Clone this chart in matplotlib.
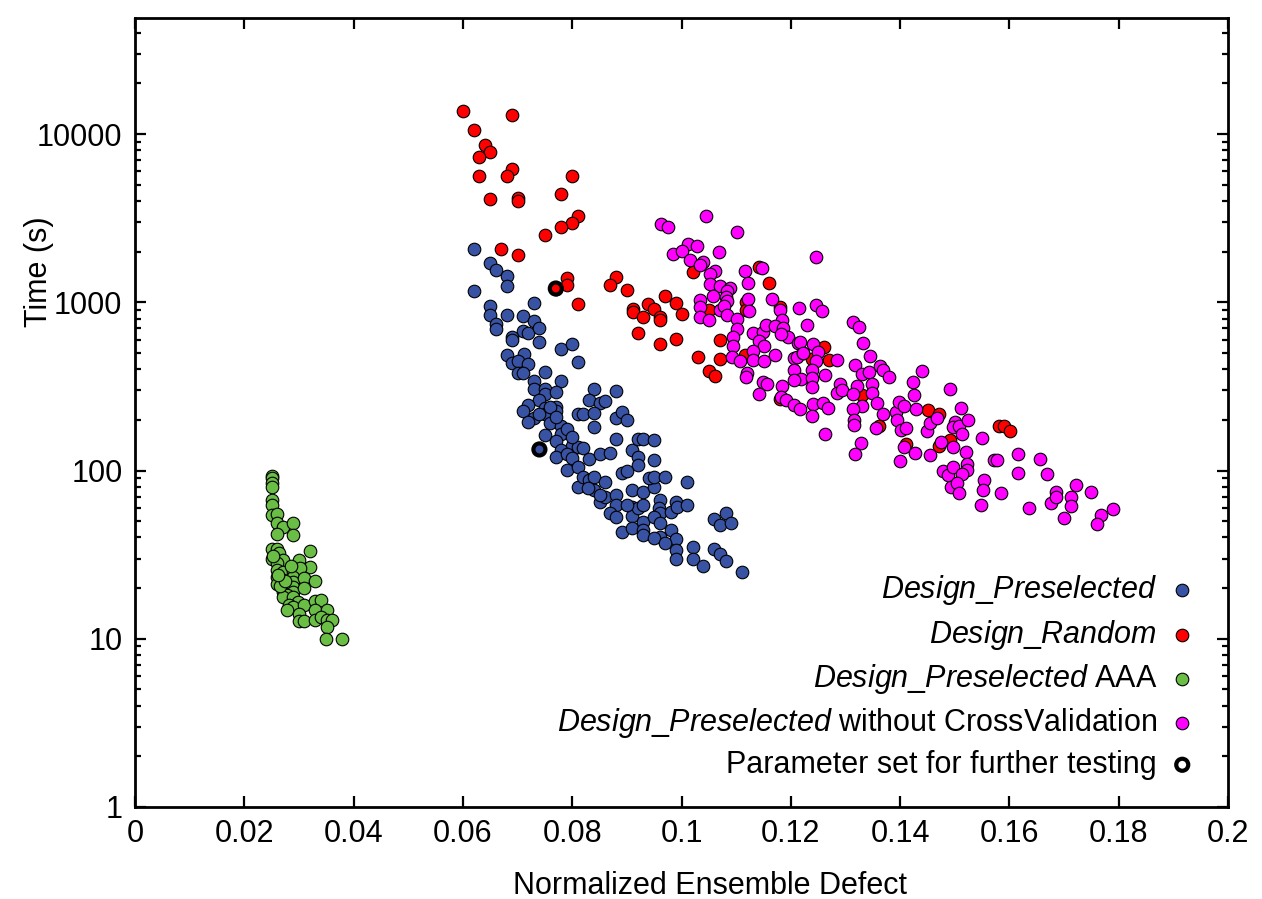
import matplotlib
matplotlib.use("Agg")
import matplotlib.pyplot as plt
from matplotlib.ticker import FixedLocator, FuncFormatter, LogLocator, NullFormatter

plt.rcParams['font.family'] = ['Liberation Sans', 'DejaVu Sans']
plt.rcParams['mathtext.fontset'] = 'custom'
plt.rcParams['mathtext.rm'] = 'Liberation Sans'
plt.rcParams['mathtext.it'] = 'Liberation Sans:italic'

# ---------------- data ----------------
pre_x = [0.0620, 0.0650, 0.0661, 0.0680, 0.0680, 0.0620, 0.0730, 0.0650, 0.0650, 0.0680,
         0.0710, 0.0730, 0.0661, 0.0661, 0.0710, 0.0720, 0.0740, 0.0689, 0.0689, 0.0740,
         0.0780, 0.0800, 0.0811, 0.0680, 0.0711, 0.0689, 0.0700, 0.0720, 0.0700, 0.0710,
         0.0750, 0.0730, 0.0730, 0.0780, 0.0750, 0.0750, 0.0770, 0.0740, 0.0720, 0.0710,
         0.0750, 0.0750, 0.0770, 0.0770, 0.0730, 0.0720, 0.0740, 0.0760, 0.0780, 0.0780,
         0.0790, 0.0750, 0.0840, 0.0830, 0.0850, 0.0860, 0.0880, 0.0811, 0.0820, 0.0840,
         0.0880, 0.0891, 0.0900, 0.0840, 0.0770, 0.0800, 0.0780, 0.0810, 0.0820, 0.0770,
         0.0790, 0.0800, 0.0790, 0.0810, 0.0830, 0.0850, 0.0870, 0.0880, 0.0910, 0.0920,
         0.0920, 0.0920, 0.0930, 0.0950, 0.0950, 0.0811, 0.0820, 0.0830, 0.0840, 0.0840,
         0.0850, 0.0860, 0.0880, 0.0880, 0.0870, 0.0880, 0.0891, 0.0900, 0.0910, 0.0910,
         0.0910, 0.0930, 0.0950, 0.0940, 0.0950, 0.0970, 0.1010, 0.0920, 0.0930, 0.0961,
         0.0959, 0.0961, 0.0990, 0.0981, 0.0991, 0.1010, 0.0891, 0.0910, 0.0930, 0.0930,
         0.0930, 0.0950, 0.0961, 0.0981, 0.0990, 0.0961, 0.0950, 0.0970, 0.0990, 0.0990,
         0.1021, 0.1021, 0.1040, 0.1060, 0.1070, 0.1081, 0.1060, 0.1070, 0.1081, 0.1091,
         0.1111, 0.0759, 0.0770, 0.0799, 0.0860, 0.0829, 0.0851, 0.0900, 0.0740]
pre_y = [2087, 1715, 1566, 1443, 1252, 1175, 997, 948, 838, 842,
         830, 772, 748, 692, 676, 653, 699, 623, 595, 582,
         526, 564, 439, 487, 490, 433, 447, 431, 378, 378,
         384, 340, 305, 343, 307, 287, 292, 262, 245, 226,
         234, 218, 239, 226, 204, 195, 218, 191, 184, 166,
         176, 162, 306, 262, 253, 258, 298, 216, 218, 220,
         204, 222, 199, 182, 149, 140, 132, 138, 136, 121,
         125, 118, 100.6, 105, 117, 125, 127, 154, 132, 121,
         108, 155, 155, 151, 116, 80, 91.8, 87.7, 91.8, 76.5,
         65.2, 69.8, 71.4, 62.3, 56.1, 53.1, 96.9, 99.6, 76.5, 60.8,
         53.6, 74.4, 79.4, 90.5, 91.8, 91.8, 85.0, 59.5, 62.3, 66.7,
         60.0, 55.6, 65.2, 56.4, 60.8, 62.3, 43.2, 45.3, 49.6, 44.3,
         41.3, 53.1, 48.9, 44.3, 39.1, 40.4, 39.5, 37.2, 33.7, 29.8,
         34.9, 30.0, 27.0, 34.0, 31.7, 29.1, 51.4, 47.4, 56.1, 48.9,
         25.0, 239, 208, 159, 85.7, 78.3, 71.4, 62.3, 133.5]

rnd_x = [0.0600, 0.0689, 0.0620, 0.0640, 0.0650, 0.0630, 0.0690, 0.0680, 0.0630, 0.0800,
         0.0650, 0.0700, 0.0700, 0.0780, 0.0811, 0.0800, 0.0780, 0.0750, 0.0669, 0.0700,
         0.0791, 0.0791, 0.0811, 0.0880, 0.0870, 0.0900, 0.1021, 0.1141, 0.1160, 0.0970,
         0.0990, 0.0939, 0.0950, 0.0911, 0.0911, 0.0930, 0.0961, 0.0961, 0.1001, 0.0920,
         0.0961, 0.0990, 0.1050, 0.1118, 0.1118, 0.1180, 0.1070, 0.1030, 0.1070, 0.1050,
         0.1061, 0.1116, 0.1180, 0.1238, 0.1261, 0.1270, 0.1331, 0.1361, 0.1411, 0.1451,
         0.1471, 0.1491, 0.1471, 0.1581, 0.1591, 0.1601, 0.0770]
rnd_y = [13700, 13000, 10540, 8580, 7800, 7350, 6240, 5610, 5610, 5670,
         4115, 4170, 3988, 4406, 3248, 2963, 2794, 2529, 2087, 1923,
         1404, 1264, 974, 1416, 1276, 1180, 1516, 1623, 1304, 1087,
         997, 984, 914, 914, 873, 819, 819, 783, 850, 658,
         564, 609, 898, 1001, 898, 935, 595, 474, 461, 390,
         365, 485, 268, 459, 541, 453, 281, 184, 144, 230,
         216, 151, 140, 185, 185, 173, 1208]

aaa_x = [0.0250, 0.0250, 0.0250, 0.0250, 0.0250, 0.0250, 0.0250, 0.0259, 0.0260, 0.0271,
         0.0260, 0.0290, 0.0290, 0.0250, 0.0260, 0.0250, 0.0264, 0.0270, 0.0320, 0.0300,
         0.0320, 0.0259, 0.0259, 0.0270, 0.0290, 0.0302, 0.0259, 0.0260, 0.0270, 0.0290,
         0.0290, 0.0310, 0.0329, 0.0270, 0.0290, 0.0290, 0.0310, 0.0279, 0.0270, 0.0290,
         0.0299, 0.0281, 0.0290, 0.0310, 0.0329, 0.0340, 0.0329, 0.0279, 0.0300, 0.0351,
         0.0300, 0.0310, 0.0329, 0.0340, 0.0351, 0.0360, 0.0351, 0.0350, 0.0379, 0.0265,
         0.0275, 0.0285, 0.0252, 0.0262]
aaa_y = [92.6, 89.8, 83.8, 80.0, 66.7, 62.3, 54.3, 54.8, 48.5, 46.3,
         41.9, 48.5, 41.2, 34.0, 34.0, 30.0, 32.4, 29.4, 33.3, 29.4,
         26.8, 28.1, 25.6, 25.0, 25.0, 26.2, 23.4, 21.3, 22.3, 23.4,
         21.8, 22.9, 22.1, 19.0, 20.4, 19.0, 20.1, 18.2, 17.8, 17.8,
         16.6, 15.9, 15.5, 15.9, 16.8, 17.0, 14.8, 14.8, 14.0, 14.8,
         12.8, 12.8, 12.9, 13.5, 12.9, 12.9, 11.8, 9.92, 9.92, 20.5,
         22.0, 27.0, 31.0, 24.0]

nocv_x = [0.1045, 0.0963, 0.0976, 0.1101, 0.1012, 0.1028, 0.0985, 0.1001, 0.1069, 0.1016,
          0.1039, 0.1034, 0.1247, 0.1061, 0.1052, 0.1116, 0.1147, 0.1052, 0.1070, 0.1122,
          0.1089, 0.1084, 0.1058, 0.1081, 0.1083, 0.1034, 0.1034, 0.1034, 0.1051, 0.1070,
          0.1078, 0.1084, 0.1122, 0.1124, 0.1165, 0.1180, 0.1215, 0.1247, 0.1258, 0.1102,
          0.1183, 0.1101, 0.1094, 0.1094, 0.1131, 0.1150, 0.1154, 0.1171, 0.1186, 0.1194,
          0.1182, 0.1141, 0.1151, 0.1229, 0.1214, 0.1240, 0.1249, 0.1131, 0.1131, 0.1092,
          0.1107, 0.1151, 0.1171, 0.1119, 0.1118, 0.1205, 0.1211, 0.1222, 0.1247, 0.1238,
          0.1205, 0.1218, 0.1206, 0.1238, 0.1238, 0.1263, 0.1284, 0.1290, 0.1284, 0.1150,
          0.1156, 0.1141, 0.1184, 0.1182, 0.1192, 0.1205, 0.1217, 0.1241, 0.1239, 0.1259,
          0.1268, 0.1263, 0.1313, 0.1325, 0.1332, 0.1345, 0.1317, 0.1331, 0.1344, 0.1349,
          0.1349, 0.1321, 0.1330, 0.1313, 0.1316, 0.1316, 0.1328, 0.1317, 0.1356, 0.1357,
          0.1217, 0.1223, 0.1363, 0.1368, 0.1380, 0.1294, 0.1314, 0.1369, 0.1392, 0.1394,
          0.1398, 0.1407, 0.1423, 0.1425, 0.1440, 0.1429, 0.1402, 0.1411, 0.1400, 0.1407,
          0.1427, 0.1449, 0.1455, 0.1468, 0.1474, 0.1455, 0.1492, 0.1511, 0.1500, 0.1496,
          0.1508, 0.1524, 0.1514, 0.1497, 0.1520, 0.1550, 0.1479, 0.1488, 0.1497, 0.1522,
          0.1522, 0.1514, 0.1494, 0.1504, 0.1507, 0.1554, 0.1552, 0.1548, 0.1571, 0.1578,
          0.1585, 0.1616, 0.1616, 0.1656, 0.1668, 0.1636, 0.1685, 0.1677, 0.1685, 0.1721,
          0.1712, 0.1712, 0.1749, 0.1699, 0.1768, 0.1789, 0.1760]
nocv_y = [3261, 2912, 2805, 2620, 2236, 2155, 1950, 2012, 1993, 1796,
          1739, 1661, 1854, 1530, 1483, 1537, 1610, 1293, 1258, 1304,
          1225, 1164, 1087, 1077, 1019, 1029, 939, 819, 783, 898,
          948, 838, 1043, 889, 1053, 898, 931, 961, 885, 793,
          783, 692, 623, 549, 653, 667, 731, 721, 705, 623,
          646, 587, 549, 731, 577, 564, 508, 514, 457, 474,
          449, 449, 485, 378, 360, 464, 474, 500, 449, 395,
          395, 348, 345, 353, 314, 369, 457, 325, 289, 337,
          329, 284, 317, 274, 262, 245, 232, 250, 211, 253,
          234, 166, 765, 709, 577, 478, 427, 374, 383, 329,
          289, 317, 242, 231, 199, 186, 145, 126, 178, 253,
          582, 500, 421, 395, 362, 300, 287, 216, 223, 199,
          256, 242, 337, 281, 391, 232, 174, 178, 114, 138,
          128, 171, 191, 204, 148, 123, 307, 234, 195, 182,
          185, 199, 164, 138, 129, 157, 99.6, 93.5, 105, 110,
          101, 95.2, 80.0, 83.8, 73.1, 87.7, 76.5, 62.3, 116, 115,
          73.1, 125, 96.1, 117, 95.2, 59.5, 74.4, 64.3, 69.8, 81.9,
          69.8, 61.4, 74.4, 52.4, 54.3, 59.2, 48.0]

sel_x = [0.0770, 0.0740]
sel_y = [1208, 133.5]

labels = [r"$\mathit{Design\_Preselected}$",
          r"$\mathit{Design\_Random}$",
          r"$\mathit{Design\_Preselected}$ AAA",
          r"$\mathit{Design\_Preselected}$ without CrossValidation",
          "Parameter set for further testing"]

x_ticks = [0, 0.02, 0.04, 0.06, 0.08, 0.1, 0.12, 0.14, 0.16, 0.18, 0.2]
y_ticks = [1, 10, 100, 1000, 10000]

# ---------------- plot ----------------
fig = plt.figure(figsize=(12.62, 8.99), dpi=100)
ax = fig.add_axes([135 / 1262, 92 / 899, 1093 / 1262, 789 / 899])

ms = 82
ew = 0.8
ax.scatter(pre_x, pre_y, s=ms, c='#3953A4', edgecolors='black', linewidths=ew, label=labels[0], zorder=3)
ax.scatter(rnd_x, rnd_y, s=ms, c='#FF0000', edgecolors='black', linewidths=ew, label=labels[1], zorder=3)
ax.scatter(aaa_x, aaa_y, s=ms, c='#6ABD45', edgecolors='black', linewidths=ew, label=labels[2], zorder=3)
ax.scatter(nocv_x, nocv_y, s=ms, c='#FF00FF', edgecolors='black', linewidths=ew, label=labels[3], zorder=3)
ax.scatter(sel_x, sel_y, s=75, facecolors='none', edgecolors='black', linewidths=3.0, label=labels[4], zorder=4)

ax.set_yscale('log')
ax.set_xlim(0, 0.2)
ax.set_ylim(1, 49000)

ax.xaxis.set_major_locator(FixedLocator(x_ticks))
ax.xaxis.set_major_formatter(FuncFormatter(lambda v, p: '%g' % v))
ax.yaxis.set_major_locator(FixedLocator(y_ticks))
ax.yaxis.set_major_formatter(FuncFormatter(lambda v, p: '%d' % v))
ax.yaxis.set_minor_locator(LogLocator(base=10, subs=range(2, 10)))
ax.yaxis.set_minor_formatter(NullFormatter())

ax.tick_params(axis='both', which='major', direction='in', length=8, width=1.6,
               labelsize=22, top=True, right=True)
ax.tick_params(axis='y', which='minor', direction='in', length=4.5, width=1.6, right=True)
ax.tick_params(axis='x', which='major', pad=9)
ax.tick_params(axis='y', which='major', pad=9)

for sp in ax.spines.values():
    sp.set_linewidth(2.0)

ax.set_xlabel('Normalized Ensemble Defect', fontsize=22)
ax.set_ylabel('Time (s)', fontsize=22)
ax.xaxis.set_label_coords(0.526, -0.081)
ax.yaxis.set_label_coords(-0.074, 0.678)

leg = ax.legend(loc='lower right', bbox_to_anchor=(0.984, 0.019), frameon=False,
                markerfirst=False, fontsize=22, handletextpad=0.3, handlelength=1.05,
                labelspacing=0.33, markerscale=1.0, borderaxespad=0.0)
for t in leg.get_texts():
    t.set_ha('right')

fig.savefig('out.png', dpi=100)
